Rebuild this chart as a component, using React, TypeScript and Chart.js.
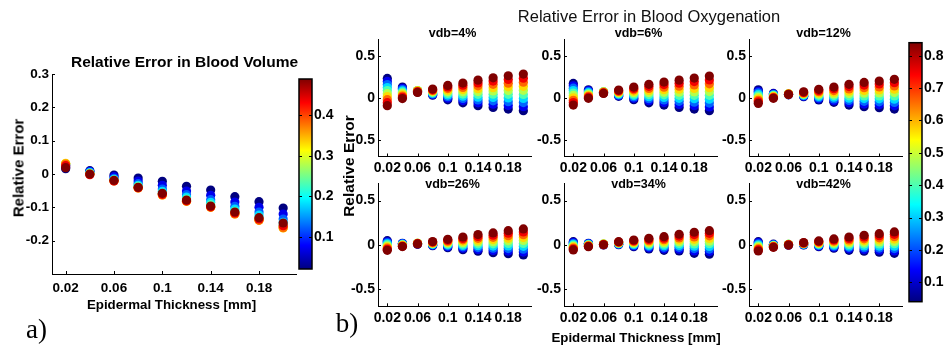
import React, { useEffect, useRef } from 'react';
import { Chart, registerables } from 'chart.js';
Chart.register(...registerables);

// ---------- data ----------
const thickness = [0.02, 0.04, 0.06, 0.08, 0.1, 0.12, 0.14, 0.16, 0.18, 0.2];
const xTicks = [0.02, 0.06, 0.1, 0.14, 0.18];

// colour values (colorbar variable) of the point families
const volLevels = [0.02, 0.07, 0.12, 0.18, 0.23, 0.28, 0.33, 0.38, 0.44, 0.49];
const oxyLevels = [0.04, 0.13, 0.22, 0.31, 0.4, 0.48, 0.57, 0.66, 0.75, 0.84];

const volYTicks = [-0.2, -0.1, 0, 0.1, 0.2, 0.3];
const oxyYTicks = [-0.5, 0, 0.5];
const volCbTicks = [0.1, 0.2, 0.3, 0.4];
const oxyCbTicks = [0.1, 0.2, 0.3, 0.4, 0.5, 0.6, 0.7, 0.8];

// rows: thickness, columns: colour level
const volErr = [
  [0.016, 0.021, 0.025, 0.028, 0.03, 0.031, 0.032, 0.03, 0.025, 0.019],
  [0.01, 0.008, 0.006, 0.004, 0.002, 0.001, 0.0, -0.001, -0.002, 0.0],
  [-0.003, -0.008, -0.013, -0.016, -0.018, -0.019, -0.02, -0.021, -0.021, -0.019],
  [-0.012, -0.021, -0.029, -0.034, -0.037, -0.04, -0.042, -0.042, -0.041, -0.04],
  [-0.022, -0.034, -0.045, -0.052, -0.057, -0.06, -0.063, -0.063, -0.061, -0.058],
  [-0.037, -0.051, -0.062, -0.069, -0.075, -0.079, -0.082, -0.082, -0.08, -0.078],
  [-0.048, -0.064, -0.077, -0.085, -0.092, -0.097, -0.1, -0.1, -0.098, -0.096],
  [-0.068, -0.084, -0.097, -0.105, -0.112, -0.117, -0.12, -0.12, -0.117, -0.114],
  [-0.083, -0.1, -0.114, -0.123, -0.131, -0.136, -0.139, -0.139, -0.135, -0.131],
  [-0.102, -0.12, -0.135, -0.145, -0.153, -0.158, -0.162, -0.161, -0.155, -0.147],
];

const oxyErr4 = [
  [0.23, 0.194, 0.158, 0.122, 0.086, 0.049, 0.013, -0.023, -0.059, -0.095],
  [0.127, 0.112, 0.097, 0.081, 0.066, 0.051, 0.036, 0.02, 0.005, -0.01],
  [0.07, 0.075, 0.08, 0.083, 0.085, 0.085, 0.082, 0.077, 0.07, 0.064],
  [0.03, 0.038, 0.046, 0.054, 0.062, 0.071, 0.079, 0.087, 0.095, 0.103],
  [-0.025, -0.006, 0.013, 0.032, 0.051, 0.071, 0.09, 0.109, 0.128, 0.147],
  [-0.06, -0.034, -0.008, 0.018, 0.044, 0.071, 0.097, 0.123, 0.149, 0.175],
  [-0.095, -0.061, -0.027, 0.007, 0.041, 0.074, 0.108, 0.142, 0.176, 0.21],
  [-0.115, -0.076, -0.037, 0.003, 0.042, 0.081, 0.12, 0.16, 0.199, 0.238],
  [-0.135, -0.091, -0.047, -0.003, 0.041, 0.086, 0.13, 0.174, 0.218, 0.262],
  [-0.155, -0.106, -0.058, -0.009, 0.039, 0.088, 0.136, 0.185, 0.233, 0.282],
];

const oxyErr6 = [
  [0.171, 0.142, 0.114, 0.085, 0.056, 0.028, -0.001, -0.03, -0.058, -0.087],
  [0.095, 0.084, 0.072, 0.061, 0.05, 0.038, 0.027, 0.016, 0.004, -0.007],
  [0.058, 0.062, 0.066, 0.069, 0.071, 0.071, 0.068, 0.064, 0.058, 0.052],
  [0.017, 0.025, 0.034, 0.042, 0.05, 0.059, 0.067, 0.075, 0.084, 0.092],
  [-0.024, -0.007, 0.01, 0.026, 0.043, 0.06, 0.077, 0.094, 0.11, 0.127],
  [-0.06, -0.036, -0.011, 0.013, 0.038, 0.062, 0.087, 0.111, 0.136, 0.16],
  [-0.087, -0.057, -0.026, 0.004, 0.035, 0.065, 0.096, 0.126, 0.157, 0.187],
  [-0.115, -0.079, -0.043, -0.007, 0.029, 0.066, 0.102, 0.138, 0.174, 0.21],
  [-0.135, -0.094, -0.053, -0.012, 0.029, 0.07, 0.111, 0.152, 0.193, 0.234],
  [-0.155, -0.109, -0.063, -0.017, 0.029, 0.074, 0.12, 0.166, 0.212, 0.258],
];

const oxyErr12 = [
  [0.095, 0.077, 0.059, 0.041, 0.023, 0.005, -0.013, -0.031, -0.049, -0.067],
  [0.052, 0.045, 0.039, 0.032, 0.026, 0.019, 0.013, 0.006, 0.0, -0.007],
  [0.035, 0.038, 0.041, 0.044, 0.046, 0.047, 0.046, 0.044, 0.042, 0.04],
  [0.012, 0.019, 0.025, 0.032, 0.038, 0.045, 0.051, 0.058, 0.064, 0.071],
  [-0.027, -0.013, 0.001, 0.015, 0.029, 0.044, 0.058, 0.072, 0.086, 0.1],
  [-0.055, -0.035, -0.015, 0.006, 0.026, 0.046, 0.066, 0.086, 0.107, 0.127],
  [-0.087, -0.06, -0.032, -0.005, 0.023, 0.05, 0.078, 0.105, 0.133, 0.16],
  [-0.107, -0.075, -0.043, -0.01, 0.022, 0.054, 0.086, 0.119, 0.151, 0.183],
  [-0.119, -0.084, -0.048, -0.013, 0.022, 0.058, 0.093, 0.128, 0.164, 0.199],
  [-0.135, -0.096, -0.056, -0.017, 0.022, 0.062, 0.101, 0.14, 0.18, 0.219],
];

const oxyErr26 = [
  [0.045, 0.033, 0.021, 0.009, -0.003, -0.016, -0.028, -0.04, -0.052, -0.064],
  [0.016, 0.012, 0.008, 0.003, -0.001, -0.005, -0.009, -0.014, -0.018, -0.022],
  [0.004, 0.007, 0.01, 0.013, 0.015, 0.016, 0.016, 0.014, 0.011, 0.008],
  [-0.012, -0.007, -0.002, 0.004, 0.009, 0.014, 0.019, 0.024, 0.03, 0.035],
  [-0.034, -0.023, -0.013, -0.002, 0.008, 0.019, 0.029, 0.04, 0.05, 0.061],
  [-0.057, -0.041, -0.025, -0.009, 0.007, 0.023, 0.039, 0.055, 0.071, 0.087],
  [-0.075, -0.054, -0.033, -0.012, 0.009, 0.03, 0.051, 0.072, 0.093, 0.114],
  [-0.091, -0.066, -0.041, -0.016, 0.009, 0.033, 0.058, 0.083, 0.108, 0.133],
  [-0.102, -0.073, -0.044, -0.015, 0.014, 0.043, 0.072, 0.101, 0.13, 0.159],
  [-0.117, -0.084, -0.051, -0.019, 0.014, 0.047, 0.08, 0.113, 0.145, 0.178],
];

const oxyErr34 = [
  [0.034, 0.024, 0.013, 0.003, -0.008, -0.018, -0.029, -0.039, -0.05, -0.06],
  [0.016, 0.012, 0.007, 0.003, -0.001, -0.006, -0.01, -0.014, -0.019, -0.023],
  [-0.004, -0.001, 0.002, 0.004, 0.006, 0.006, 0.005, 0.003, 0.001, -0.001],
  [0.0, 0.004, 0.008, 0.011, 0.015, 0.019, 0.023, 0.026, 0.03, 0.034],
  [-0.023, -0.015, -0.006, 0.002, 0.011, 0.019, 0.028, 0.036, 0.045, 0.053],
  [-0.049, -0.036, -0.022, -0.009, 0.005, 0.018, 0.032, 0.045, 0.059, 0.072],
  [-0.064, -0.047, -0.03, -0.012, 0.005, 0.022, 0.039, 0.057, 0.074, 0.091],
  [-0.072, -0.051, -0.03, -0.009, 0.012, 0.034, 0.055, 0.076, 0.097, 0.118],
  [-0.098, -0.071, -0.045, -0.018, 0.008, 0.035, 0.061, 0.088, 0.114, 0.141],
  [-0.109, -0.079, -0.05, -0.02, 0.01, 0.04, 0.07, 0.1, 0.129, 0.159],
];

const oxyErr42 = [
  [0.034, 0.022, 0.01, -0.001, -0.013, -0.025, -0.037, -0.049, -0.06, -0.072],
  [0.005, 0.001, -0.003, -0.007, -0.011, -0.014, -0.018, -0.022, -0.026, -0.03],
  [-0.006, -0.003, 0.0, 0.002, 0.003, 0.003, 0.002, 0.0, -0.002, -0.004],
  [-0.003, 0.0, 0.003, 0.006, 0.009, 0.011, 0.014, 0.017, 0.02, 0.023],
  [-0.023, -0.016, -0.009, -0.001, 0.006, 0.013, 0.02, 0.027, 0.035, 0.042],
  [-0.041, -0.029, -0.017, -0.006, 0.006, 0.018, 0.03, 0.041, 0.053, 0.065],
  [-0.064, -0.047, -0.03, -0.014, 0.003, 0.02, 0.037, 0.054, 0.07, 0.087],
  [-0.075, -0.055, -0.035, -0.014, 0.006, 0.026, 0.046, 0.066, 0.087, 0.107],
  [-0.086, -0.063, -0.039, -0.016, 0.008, 0.031, 0.055, 0.078, 0.102, 0.125],
  [-0.098, -0.071, -0.044, -0.017, 0.01, 0.037, 0.063, 0.09, 0.117, 0.144],
];

const vdbTitles = ['vdb=4%', 'vdb=6%', 'vdb=12%', 'vdb=26%', 'vdb=34%', 'vdb=42%'];
const oxyErrs = [oxyErr4, oxyErr6, oxyErr12, oxyErr26, oxyErr34, oxyErr42];

// ---------- styling helpers ----------
const W = 945;
const H = 348;
const FONT = "'Liberation Sans', Arial, Helvetica, sans-serif";

function clamp(v: number) {
  return Math.max(0, Math.min(1, v));
}
function jet(t: number) {
  t = clamp(t);
  const r = clamp(1.5 - Math.abs(4 * t - 3));
  const g = clamp(1.5 - Math.abs(4 * t - 2));
  const b = clamp(1.5 - Math.abs(4 * t - 1));
  return `rgb(${Math.round(r * 255)},${Math.round(g * 255)},${Math.round(b * 255)})`;
}

const inwardTicks = {
  id: 'inwardTicks',
  afterDraw(chart: any) {
    const { ctx, chartArea } = chart;
    const xs = chart.scales.x;
    const ys = chart.scales.y;
    ctx.save();
    ctx.strokeStyle = '#000';
    ctx.lineWidth = 1;
    ctx.beginPath();
    xs.ticks.forEach((t: any) => {
      const px = Math.round(xs.getPixelForValue(t.value)) + 0.5;
      ctx.moveTo(px, chartArea.bottom);
      ctx.lineTo(px, chartArea.bottom - 3);
    });
    ys.ticks.forEach((t: any) => {
      const py = Math.round(ys.getPixelForValue(t.value)) + 0.5;
      ctx.moveTo(chartArea.left, py);
      ctx.lineTo(chartArea.left + 3, py);
    });
    ctx.stroke();
    ctx.restore();
  },
};

const colorbarFill = {
  id: 'colorbarFill',
  beforeDatasetsDraw(chart: any) {
    const { ctx, chartArea } = chart;
    const { left, right, top, bottom } = chartArea;
    const g = ctx.createLinearGradient(0, bottom, 0, top);
    [0, 0.125, 0.375, 0.625, 0.875, 1].forEach((t) => g.addColorStop(t, jet(t)));
    ctx.save();
    ctx.fillStyle = g;
    ctx.fillRect(left, top, right - left, bottom - top);
    ctx.strokeStyle = '#000';
    ctx.lineWidth = 1.5;
    ctx.strokeRect(left, top, right - left, bottom - top);
    const ys = chart.scales.y;
    ctx.lineWidth = 1;
    ctx.beginPath();
    ys.ticks.forEach((t: any) => {
      const py = Math.round(ys.getPixelForValue(t.value)) + 0.5;
      ctx.moveTo(left, py);
      ctx.lineTo(left + 3, py);
      ctx.moveTo(right, py);
      ctx.lineTo(right - 3, py);
    });
    ctx.stroke();
    ctx.restore();
  },
};

type PanelSpec = {
  L: number; R: number; T: number; B: number;
  xMin: number; xMax: number; yMin: number; yMax: number;
  yTicks: number[];
  err: number[][];
  levels: number[];
  tickSize: number;
  xPad: number;
  radius: number;
};

const YW = 40;
const XH = 26;

function zeroPad(s: any) {
  s.paddingLeft = 0;
  s.paddingRight = 0;
  s.paddingTop = 0;
  s.paddingBottom = 0;
}

function ScatterPanel({ spec }: { spec: PanelSpec }) {
  const ref = useRef<HTMLCanvasElement>(null);
  useEffect(() => {
    const cMin = spec.levels[0];
    const cMax = spec.levels[spec.levels.length - 1];
    const pts: { x: number; y: number }[] = [];
    const cols: string[] = [];
    spec.levels.forEach((c, k) => {
      thickness.forEach((x, i) => {
        pts.push({ x, y: spec.err[i][k] });
        cols.push(jet((c - cMin) / (cMax - cMin)));
      });
    });
    const font = { family: FONT, size: spec.tickSize, weight: 'bold' as const };
    const chart = new Chart(ref.current as HTMLCanvasElement, {
      type: 'scatter',
      data: {
        datasets: [
          {
            data: pts,
            pointBackgroundColor: cols,
            pointBorderWidth: 0,
            pointRadius: spec.radius,
            showLine: false,
            clip: false as any,
          },
        ],
      },
      options: {
        animation: false,
        responsive: false,
        events: [],
        layout: {
          padding: { left: spec.L - YW, right: W - spec.R, top: spec.T, bottom: H - spec.B - XH },
        },
        plugins: { legend: { display: false }, tooltip: { enabled: false }, title: { display: false } },
        scales: {
          x: {
            type: 'linear',
            min: spec.xMin,
            max: spec.xMax,
            grid: { display: false, drawTicks: false },
            border: { display: true, color: '#000', width: 1 },
            ticks: { font, color: '#000', padding: spec.xPad, maxRotation: 0, autoSkip: false, callback: (v: any) => String(v) },
            afterBuildTicks: (s: any) => { s.ticks = xTicks.map((v) => ({ value: v })); },
            afterFit: (s: any) => { s.height = XH; zeroPad(s); },
          },
          y: {
            type: 'linear',
            min: spec.yMin,
            max: spec.yMax,
            grid: { display: false, drawTicks: false },
            border: { display: true, color: '#000', width: 1 },
            ticks: { font, color: '#000', padding: 3, autoSkip: false, callback: (v: any) => String(v) },
            afterBuildTicks: (s: any) => { s.ticks = spec.yTicks.map((v) => ({ value: v })); },
            afterFit: (s: any) => { s.width = YW; zeroPad(s); },
          },
        },
      },
      plugins: [inwardTicks],
    } as any);
    return () => chart.destroy();
  }, []);
  return <canvas ref={ref} width={W} height={H} style={{ position: 'absolute', left: 0, top: 0 }} />;
}

type CbSpec = { L: number; R: number; T: number; B: number; levels: number[]; ticks: number[]; tickSize: number };

function Colorbar({ spec }: { spec: CbSpec }) {
  const ref = useRef<HTMLCanvasElement>(null);
  useEffect(() => {
    const CW = 34;
    const chart = new Chart(ref.current as HTMLCanvasElement, {
      type: 'scatter',
      data: { datasets: [] },
      options: {
        animation: false,
        responsive: false,
        events: [],
        layout: { padding: { left: spec.L, right: W - spec.R - CW, top: spec.T, bottom: H - spec.B } },
        plugins: { legend: { display: false }, tooltip: { enabled: false } },
        scales: {
          x: { display: false, min: 0, max: 1 },
          y: {
            position: 'right',
            type: 'linear',
            min: spec.levels[0],
            max: spec.levels[spec.levels.length - 1],
            grid: { display: false, drawTicks: false },
            border: { display: false },
            ticks: { font: { family: FONT, size: spec.tickSize, weight: 'bold' }, color: '#000', padding: 2, autoSkip: false, callback: (v: any) => String(v) },
            afterBuildTicks: (s: any) => { s.ticks = spec.ticks.map((v) => ({ value: v })); },
            afterFit: (s: any) => { s.width = CW; zeroPad(s); },
          },
        },
      },
      plugins: [colorbarFill],
    } as any);
    return () => chart.destroy();
  }, []);
  return <canvas ref={ref} width={W} height={H} style={{ position: 'absolute', left: 0, top: 0 }} />;
}

function Label(props: { x: number; y: number; text: string; size: number; weight?: any; rotate?: boolean; family?: string; color?: string }) {
  const { x, y, text, size, weight = 'bold', rotate = false, family = FONT, color = '#000' } = props;
  return (
    <div
      style={{
        position: 'absolute',
        left: x,
        top: y,
        transform: `translate(-50%, -50%)${rotate ? ' rotate(-90deg)' : ''}`,
        fontSize: size,
        fontWeight: weight,
        fontFamily: family,
        lineHeight: 1,
        whiteSpace: 'nowrap',
        color,
      }}
    >
      {text}
    </div>
  );
}

const colL = [378, 564, 749];
const colW = 153;
const rowT = [39, 183];
const rowB = [156.5, 306.3];
const titleY = [32.5, 183.5];

export default function App() {
  const volSpec: PanelSpec = {
    L: 52, R: 296, T: 74, B: 274,
    xMin: 0.0087, xMax: 0.2106, yMin: -0.3, yMax: 0.3,
    yTicks: volYTicks, err: volErr, levels: volLevels, tickSize: 13.5, xPad: 6, radius: 4.6,
  };
  const oxySpecs: PanelSpec[] = oxyErrs.map((err, i) => {
    const r = Math.floor(i / 3);
    const c = i % 3;
    return {
      L: colL[c], R: colL[c] + colW, T: rowT[r], B: rowB[r],
      xMin: 0.0077, xMax: 0.2101, yMin: -0.7, yMax: 0.7,
      yTicks: oxyYTicks, err, levels: oxyLevels, tickSize: 14, xPad: 3, radius: 4.6,
    };
  });
  return (
    <div style={{ position: 'fixed', left: 0, top: 0, width: W, height: H, background: '#fff', overflow: 'hidden' }}>
      <ScatterPanel spec={volSpec} />
      {oxySpecs.map((s, i) => (
        <ScatterPanel key={i} spec={s} />
      ))}
      <Colorbar spec={{ L: 299, R: 312, T: 79, B: 269, levels: volLevels, ticks: volCbTicks, tickSize: 14 }} />
      <Colorbar spec={{ L: 909, R: 922, T: 42.7, B: 301.7, levels: oxyLevels, ticks: oxyCbTicks, tickSize: 14 }} />

      <Label x={184.5} y={61.5} text="Relative Error in Blood Volume" size={15.5} />
      <Label x={17.5} y={167.5} text="Relative Error" size={15} rotate />
      <Label x={171.5} y={305} text="Epidermal Thickness [mm]" size={13.3} />
      <Label x={36.5} y={329} text="a)" size={27} weight="normal" family="'Liberation Serif', 'Times New Roman', serif" />

      <Label x={649} y={16} text="Relative Error in Blood Oxygenation" size={16.5} weight="normal" color="#111" />
      {vdbTitles.map((t, i) => (
        <Label key={t} x={colL[i % 3] + colW / 2 - 2} y={titleY[Math.floor(i / 3)]} text={t} size={12.5} />
      ))}
      <Label x={349} y={166} text="Relative Error" size={15.5} rotate />
      <Label x={636} y={338} text="Epidermal Thickness [mm]" size={13.3} />
      <Label x={347} y={323} text="b)" size={27} weight="normal" family="'Liberation Serif', 'Times New Roman', serif" />
    </div>
  );
}
